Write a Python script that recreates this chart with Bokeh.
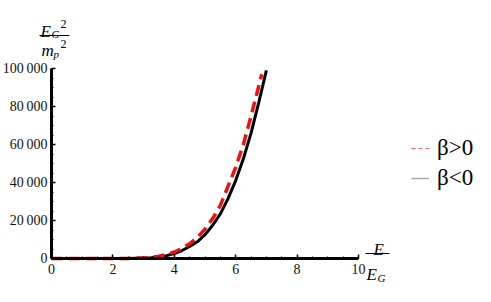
from bokeh.plotting import figure
from bokeh.models import (Range1d, FixedTicker, Label, Legend, LegendItem, BoxAnnotation)
from bokeh.embed import file_html
from bokeh.resources import INLINE

# ---- data ----
x_pos = [0, 0.5, 1, 1.5, 2, 2.5, 3, 3.25, 3.5, 3.75, 4, 4.25, 4.5, 4.75, 5, 5.25, 5.5, 5.75, 6, 6.25, 6.5, 6.85]
y_pos = [0, 0, 0, 0, 8, 60, 320, 600, 1150, 2100, 3400, 5300, 7800, 11000, 15500, 21000, 28000, 38000, 48000, 60000, 75000, 97000]
x_neg = [0, 0.5, 1, 1.5, 2, 2.5, 3, 3.25, 3.5, 3.75, 4, 4.25, 4.5, 4.75, 5, 5.25, 5.5, 5.75, 6, 6.25, 6.5, 6.75, 7.0]
y_neg = [0, 0, 0, 0, 5, 40, 200, 400, 800, 1500, 2600, 4200, 6300, 8800, 12500, 17500, 23500, 31500, 41000, 52500, 66000, 82000, 99000]
x_ticks = [0, 2, 4, 6, 8, 10]
x_tick_labels = ["0", "2", "4", "6", "8", "10"]
y_ticks = [0, 20000, 40000, 60000, 80000, 100000]
y_tick_labels = ["0", "20\u2009000", "40\u2009000", "60\u2009000", "80\u2009000", "100\u2009000"]
legend_labels = ["\u03b2>0", "\u03b2<0"]

W, H = 475, 286
# axes box (origin and far ends) in figure pixels
AL, AR, AT, AB = 51, 358, 68, 258
XMAX, YMAX = 10, 100000

def dx(fx):
    return (fx - AL) / (AR - AL) * XMAX

def dy(fy):
    return (AB - fy) / (AB - AT) * YMAX

p = figure(width=W, height=H, output_backend="svg", toolbar_location=None,
           x_range=Range1d(dx(0), dx(W)), y_range=Range1d(dy(H), dy(0)),
           min_border_left=0, min_border_right=0, min_border_top=0,
           min_border_bottom=0)
p.outline_line_color = None
p.grid.visible = False
p.background_fill_color = "white"
p.border_fill_color = "white"

FONT = "Liberation Serif"
for ax in (p.xaxis[0], p.yaxis[0]):
    ax.fixed_location = 0
    ax.axis_line_width = 3
    ax.axis_line_color = "black"
    ax.major_tick_in = 4
    ax.major_tick_out = 0
    ax.minor_tick_in = 2
    ax.minor_tick_out = 0
    ax.major_tick_line_width = 1.5
    ax.minor_tick_line_width = 1.2
    ax.major_tick_line_color = "black"
    ax.minor_tick_line_color = "black"
    ax.major_label_text_font = FONT
    ax.major_label_text_font_size = "14px"
    ax.major_label_text_color = "#111111"

p.xaxis[0].bounds = (0, XMAX)
p.yaxis[0].bounds = (0, YMAX)
p.xaxis[0].ticker = FixedTicker(ticks=x_ticks, minor_ticks=[i * 0.5 for i in range(21)])
p.xaxis[0].major_label_overrides = {t: l for t, l in zip(x_ticks, x_tick_labels)}
p.xaxis[0].major_label_standoff = 5
p.yaxis[0].ticker = FixedTicker(ticks=y_ticks, minor_ticks=[i * 5000 for i in range(21)])
p.yaxis[0].major_label_overrides = {t: l for t, l in zip(y_ticks, y_tick_labels)}
p.yaxis[0].major_label_standoff = 4

# legend proxies (single point: draws nothing in the plot)
r1 = p.line(x_pos[:1], y_pos[:1], line_color="#ff6666", line_width=1, line_dash="4 3")
r2 = p.line(x_neg[:1], y_neg[:1], line_color="#aaaaaa", line_width=1.5)

p.line(x_neg, y_neg, line_color="black", line_width=3)
p.line(x_pos, y_pos, line_color="#ee1111", line_width=3.5, line_dash="11 6")

leg = Legend(items=[LegendItem(label=legend_labels[0], renderers=[r1]),
                    LegendItem(label=legend_labels[1], renderers=[r2])],
             location=(411, 95), orientation="vertical",
             margin=0, padding=0, spacing=4, glyph_width=18, glyph_height=26,
             label_height=26, label_standoff=8,
             label_text_font=FONT, label_text_font_size="23px",
             label_text_color="black",
             background_fill_alpha=0, border_line_alpha=0)
p.add_layout(leg)

def lab(text, fx, fy, size, italic=True, align="left", base="alphabetic"):
    p.add_layout(Label(x=dx(fx), y=dy(fy), text=text, text_font=FONT,
                       text_font_size=size, text_font_style="italic" if italic else "normal",
                       text_align=align, text_baseline=base, text_color="black"))

def bar(fx0, fx1, fy):
    p.add_layout(BoxAnnotation(left=dx(fx0), right=dx(fx1), top=dy(fy - 0.6), bottom=dy(fy + 0.6),
                               fill_color="black", fill_alpha=1, line_alpha=0))

# y-axis label: E_G^2 / m_p^2
lab("E", 40, 31, "17px")
lab("G", 51, 33, "11px")
lab("2", 60, 23, "12px", italic=False)
bar(39, 69, 35)
lab("m", 41, 50, "17px")
lab("p", 53, 53, "11px")
lab("2", 60, 43, "12px", italic=False)

# x-axis label: E / E_G
lab("E", 373, 249, "17px")
bar(365, 389, 253)
lab("E", 366, 274, "17px")
lab("G", 377, 277, "11px")

open("out.html", "w").write(file_html(p, INLINE))
